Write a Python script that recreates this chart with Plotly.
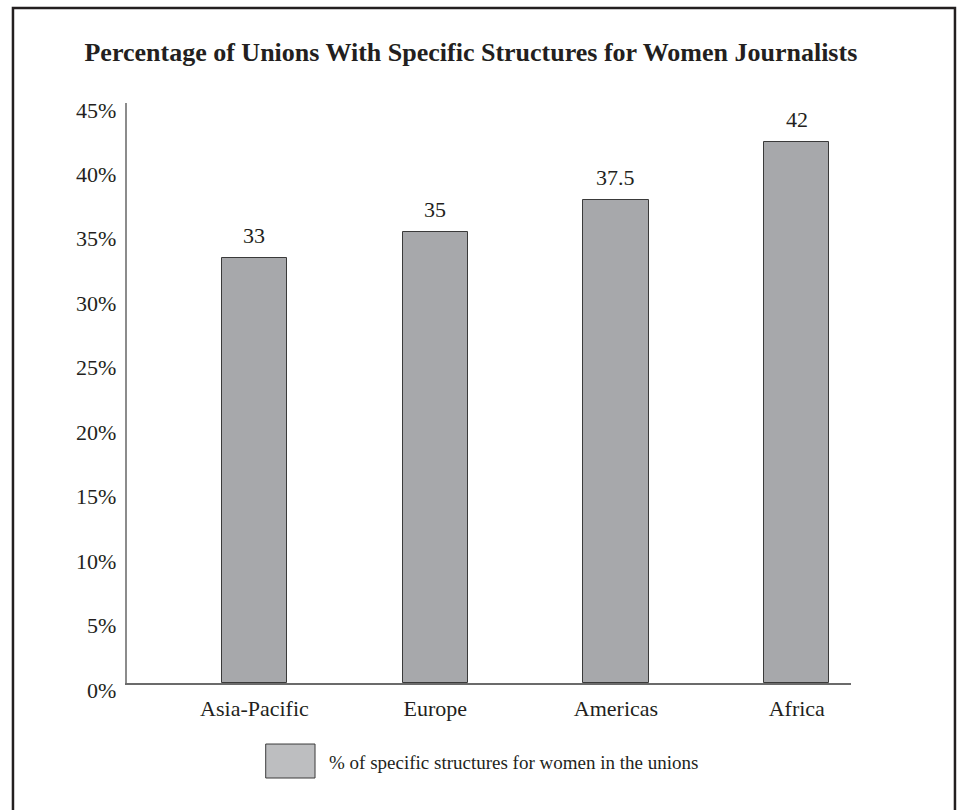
import plotly.graph_objects as go

categories = ["Asia-Pacific", "Europe", "Americas", "Africa"]
values = [33, 35, 37.5, 42]
value_labels = ["33", "35", "37.5", "42"]
ytick_vals = [0, 5, 10, 15, 20, 25, 30, 35, 40, 45]
ytick_text = ["0%", "5%", "10%", "15%", "20%", "25%", "30%", "35%", "40%", "45%"]
title_text = "<b>Percentage of Unions With Specific Structures for Women Journalists</b>"
legend_text = "% of specific structures for women in the unions"

FONT = "Liberation Serif"
TXT = "#231f20"

fig = go.Figure()
fig.add_trace(go.Bar(
    x=list(range(len(categories))), y=values, width=0.36,
    marker=dict(color="#a7a8ab", line=dict(color="#3a3a3a", width=1)),
    showlegend=False, hoverinfo="skip",
))

annotations = []
for i, (v, t) in enumerate(zip(values, value_labels)):
    annotations.append(dict(x=i, y=v, xref="x", yref="y", text=t, showarrow=False,
                            yanchor="bottom", yshift=8,
                            font=dict(family=FONT, size=22, color=TXT)))
for v, t in zip(ytick_vals, ytick_text):
    annotations.append(dict(x=0, y=v, xref="paper", yref="y", text=t, showarrow=False,
                            xanchor="right", yanchor="middle", xshift=-9, yshift=-7,
                            font=dict(family=FONT, size=22, color=TXT)))
annotations.append(dict(x=0.2762, y=-0.1379, xref="paper", yref="paper", text=legend_text,
                        showarrow=False, xanchor="left", yanchor="middle",
                        font=dict(family=FONT, size=19, color=TXT)))

shapes = [
    dict(type="rect", xref="paper", yref="paper", x0=-0.1575, x1=1.1436, y0=-0.26, y1=1.1638,
         line=dict(color="#231f20", width=2.5), fillcolor="rgba(0,0,0,0)", layer="below"),
    dict(type="rect", xref="paper", yref="paper", x0=0.1916, x1=0.2597, y0=-0.1638, y1=-0.1052,
         line=dict(color="#3a3a3a", width=1), fillcolor="#bdbec0"),
]

fig.update_layout(
    width=959, height=810,
    margin=dict(l=127, r=108, t=103, b=127),
    paper_bgcolor="white", plot_bgcolor="white",
    title=dict(text=title_text, x=0.491, xanchor="center", y=1 - 52 / 810, yanchor="middle",
               font=dict(family=FONT, size=26, color=TXT)),
    xaxis=dict(range=[-0.705, 3.3], tickvals=list(range(len(categories))), ticktext=categories,
               showline=True, linecolor="#6b6b6b", linewidth=1.5, showgrid=False, zeroline=False,
               ticks="", ticklabelstandoff=5,
               tickfont=dict(family=FONT, size=22, color=TXT), fixedrange=True),
    yaxis=dict(range=[0, 45], tickvals=ytick_vals, showticklabels=False,
               showline=True, linecolor="#8c8c8c", linewidth=1.5, showgrid=False, zeroline=False,
               ticks="", fixedrange=True),
    annotations=annotations,
    shapes=shapes,
    bargap=0,
)

fig.write_html("out.html")
